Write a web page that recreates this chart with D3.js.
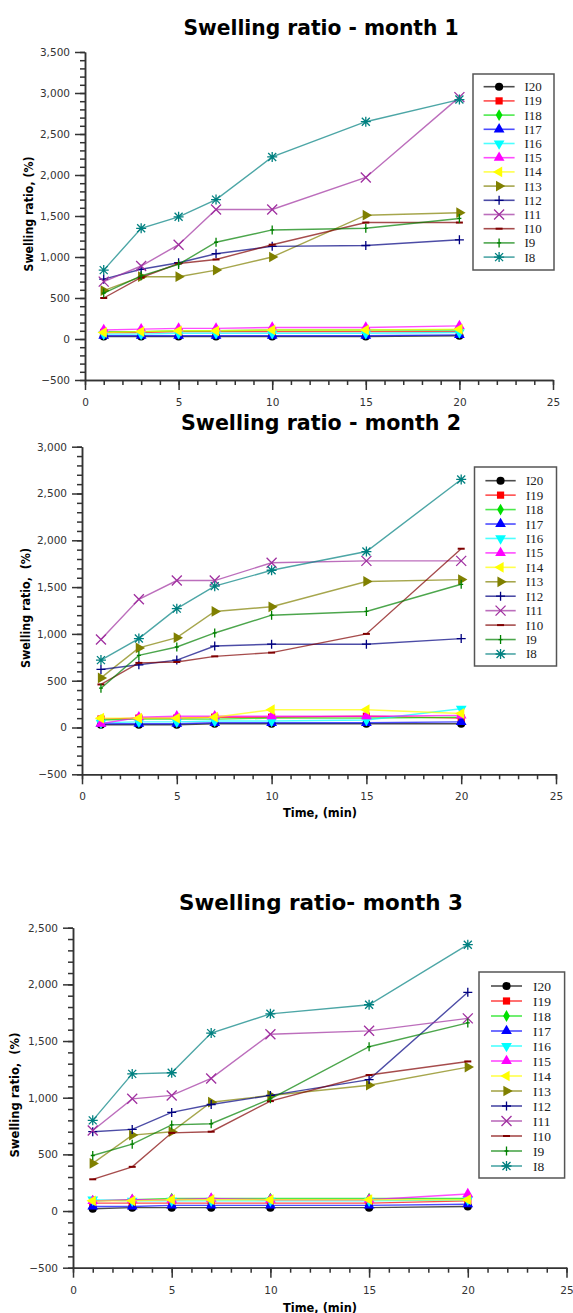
<!DOCTYPE html>
<html>
<head>
<meta charset="utf-8">
<script src="https://cdn.jsdelivr.net/npm/d3@7"></script>
<style>
  body { margin: 0; background: #fff; }
  svg text { font-family: "DejaVu Sans", sans-serif; }
  svg text.legend-label { font-family: "Liberation Serif", "Times New Roman", serif; }
</style>
</head>
<body>
<svg id="chart" width="573" height="1313"></svg>
<script>
// ---- data ----
const times = [1, 3, 5, 7, 10, 15, 20];
const seriesNames = ["I20", "I19", "I18", "I17", "I16", "I15", "I14", "I13", "I12", "I11", "I10", "I9", "I8"];

// rows follow seriesNames order
const month1Values = [
  [30, 30, 30, 30, 30, 30, 40],          // I20
  [80, 80, 90, 90, 90, 90, 90],          // I19
  [90, 90, 100, 100, 110, 110, 110],     // I18
  [40, 40, 40, 40, 40, 40, 50],          // I17
  [60, 60, 70, 70, 70, 70, 80],          // I16
  [110, 120, 130, 130, 140, 140, 160],   // I15
  [80, 90, 100, 100, 110, 110, 120],     // I14
  [590, 760, 760, 840, 1000, 1510, 1540],   // I13
  [730, 850, 930, 1040, 1130, 1140, 1210],  // I12
  [700, 890, 1150, 1580, 1580, 1970, 2950], // I11
  [500, 750, 920, 970, 1150, 1420, 1420],   // I10
  [560, 770, 910, 1180, 1330, 1350, 1470],  // I9
  [840, 1350, 1490, 1700, 2220, 2650, 2920] // I8
];
const month2Values = [
  [30, 30, 30, 40, 40, 40, 40],
  [90, 100, 100, 110, 110, 120, 100],
  [80, 90, 90, 90, 100, 100, 110],
  [40, 40, 40, 50, 50, 50, 60],
  [50, 60, 60, 70, 70, 80, 200],
  [40, 110, 120, 120, 120, 120, 130],
  [100, 100, 100, 110, 190, 190, 150],
  [530, 850, 960, 1240, 1290, 1560, 1580],
  [620, 670, 720, 870, 890, 890, 950],
  [940, 1370, 1570, 1570, 1760, 1780, 1780],
  [460, 690, 700, 760, 800, 1000, 1910],
  [420, 770, 860, 1010, 1200, 1240, 1530],
  [720, 950, 1270, 1510, 1680, 1880, 2650]
];
const month3Values = [
  [20, 30, 30, 30, 30, 30, 40],
  [70, 70, 70, 70, 70, 70, 90],
  [90, 100, 110, 110, 110, 110, 110],
  [40, 40, 50, 50, 50, 50, 60],
  [100, 90, 90, 90, 90, 90, 100],
  [90, 100, 100, 110, 100, 100, 150],
  [90, 90, 100, 100, 100, 100, 100],
  [420, 670, 700, 960, 1020, 1110, 1270],
  [700, 720, 870, 940, 1020, 1160, 1930],
  [710, 990, 1020, 1170, 1560, 1590, 1700],
  [280, 390, 690, 700, 970, 1200, 1320],
  [490, 590, 760, 770, 990, 1450, 1660],
  [800, 1210, 1220, 1570, 1740, 1820, 2350]
];

const chartTitles = ["Swelling ratio - month 1", "Swelling ratio - month 2", "Swelling ratio- month 3"];
const yLabels = ["Swelling ratio, (%)", "Swelling ratio,  (%)", "Swelling ratio,  (%)"];
const xLabels = [null, "Time, (min)", "Time, (min)"];
const yDomains = [[-500, 3500], [-500, 3000], [-500, 2500]];
const xTicks = [0, 5, 10, 15, 20, 25];

// ---- styles ----
const colors = ["#000000", "#ff0000", "#00e000", "#0000ff", "#00ffff", "#ff00ff", "#ffff00",
                "#808000", "#000080", "#a030a0", "#800000", "#008000", "#008080"];
const markers = ["circle", "square", "diamond", "triUp", "triDown", "triUp", "triLeft",
                 "triRight", "plus", "cross", "dash", "vbar", "star"];

// panel geometry
const panels = [
  {left: 85, right: 553, top: 52, bottom: 380, titleY: 35, titleW: 275,
   ylabX: 29, ylabY: 214, ylabW: 115, xlabY: null,
   legend: {x: 473, y: 74, w: 81, h: 196, row0: 86.7, step: 14.2, lx0: 483.6, lx1: 514.6, tx: 524.5, fs: 13}},
  {left: 82, right: 556, top: 446.7, bottom: 774.3, titleY: 430, titleW: 280,
   ylabX: 26, ylabY: 608, ylabW: 120, xlabY: 817,
   legend: {x: 474.5, y: 467, w: 82, h: 199, row0: 480.7, step: 14.44, lx0: 485.4, lx1: 515.7, tx: 526, fs: 13}},
  {left: 73, right: 566.5, top: 927.7, bottom: 1267.7, titleY: 910, titleW: 284,
   ylabX: 14.6, ylabY: 1095, ylabW: 125, xlabY: 1311.5,
   legend: {x: 479, y: 972, w: 85.6, h: 206, row0: 986, step: 15, lx0: 491, lx1: 522, tx: 533, fs: 13.5}}
];

const svg = d3.select("#chart");

function drawMarker(g, kind, color) {
  const filled = {circle: d3.symbolCircle, square: d3.symbolSquare, diamond: d3.symbolDiamond,
                  triUp: d3.symbolTriangle, triDown: d3.symbolTriangle,
                  triLeft: d3.symbolTriangle, triRight: d3.symbolTriangle};
  const rot = {triDown: 180, triLeft: -90, triRight: 90};
  if (filled[kind]) {
    const size = kind === "circle" ? 52 : kind === "square" ? 52 : kind === "diamond" ? 40 : 50;
    g.append("path")
      .attr("d", d3.symbol(filled[kind], size)())
      .attr("transform", rot[kind] ? `rotate(${rot[kind]})` : null)
      .attr("fill", color);
  } else {
    const shapes = {
      plus: "M-4.5,0H4.5M0,-4.5V4.5",
      cross: "M-5,-5L5,5M-5,5L5,-5",
      dash: "M-3.5,0H3.5",
      vbar: "M0,-4.5V4.5M-2,0H2",
      star: "M-5,0H5M0,-5V5M-4,-4L4,4M-4,4L4,-4"
    };
    g.append("path")
      .attr("d", shapes[kind])
      .attr("fill", "none")
      .attr("stroke", color)
      .attr("stroke-width", kind === "dash" ? 2 : 1.3);
  }
}

function drawPanel(p, values, i) {
  const x = d3.scaleLinear().domain([0, 25]).range([p.left, p.right]);
  const y = d3.scaleLinear().domain(yDomains[i]).range([p.bottom, p.top]);
  const g = svg.append("g");

  // title
  g.append("text")
    .attr("x", 321).attr("y", p.titleY)
    .attr("text-anchor", "middle")
    .attr("font-size", 21).attr("font-weight", "bold")
    .attr("textLength", p.titleW).attr("lengthAdjust", "spacingAndGlyphs")
    .text(chartTitles[i]);

  // axes: major + minor ticks
  const yMajor = d3.range(yDomains[i][0], yDomains[i][1] + 1, 500);
  const yMinor = d3.range(yDomains[i][0], yDomains[i][1] + 1, 100);
  const xMinor = d3.range(0, 26, 1);

  const yMin = g.append("g").attr("transform", `translate(${p.left},0)`)
    .call(d3.axisLeft(y).tickValues(yMinor).tickSize(5).tickSizeOuter(0).tickFormat(""));
  const yAx = g.append("g").attr("transform", `translate(${p.left},0)`)
    .call(d3.axisLeft(y).tickValues(yMajor).tickSize(10).tickSizeOuter(0).tickPadding(5)
      .tickFormat(d3.format(",")));

  const xMin = g.append("g").attr("transform", `translate(0,${p.bottom})`)
    .call(d3.axisBottom(x).tickValues(xMinor).tickSize(5).tickSizeOuter(0).tickFormat(""));
  const xAx = g.append("g").attr("transform", `translate(0,${p.bottom})`)
    .call(d3.axisBottom(x).tickValues(xTicks).tickSize(10).tickSizeOuter(0).tickPadding(8.5));

  [yMin, yAx, xMin, xAx].forEach(a => {
    a.selectAll("path, line").attr("stroke", "#333").attr("stroke-width", 1.5);
    a.selectAll("text").attr("font-size", 10.5).attr("fill", "#333")
      .attr("font-family", "'DejaVu Sans', sans-serif");
  });

  // axis titles
  g.append("text")
    .attr("transform", `translate(${p.ylabX},${p.ylabY}) rotate(-90)`)
    .attr("text-anchor", "middle").attr("dominant-baseline", "central")
    .attr("font-size", 11.5).attr("font-weight", "bold")
    .attr("textLength", p.ylabW).attr("lengthAdjust", "spacingAndGlyphs")
    .style("white-space", "pre")
    .text(yLabels[i]);
  if (xLabels[i]) {
    g.append("text")
      .attr("x", 320).attr("y", p.xlabY)
      .attr("text-anchor", "middle")
      .attr("font-size", 11.5).attr("font-weight", "bold")
      .attr("textLength", 74).attr("lengthAdjust", "spacingAndGlyphs")
      .text(xLabels[i]);
  }

  // series, drawn in legend order so I8 ends on top
  const line = d3.line().x((d, j) => x(times[j])).y(d => y(d));
  seriesNames.forEach((name, k) => {
    const s = g.append("g");
    s.append("path")
      .datum(values[k])
      .attr("d", line)
      .attr("fill", "none")
      .attr("stroke", colors[k])
      .attr("stroke-opacity", 0.7)
      .attr("stroke-width", 1.4);
    values[k].forEach((v, j) => {
      drawMarker(s.append("g").attr("transform", `translate(${x(times[j])},${y(v)})`), markers[k], colors[k]);
    });
  });

  // legend
  const L = p.legend;
  const lg = g.append("g");
  lg.append("rect")
    .attr("x", L.x).attr("y", L.y).attr("width", L.w).attr("height", L.h)
    .attr("fill", "#fff").attr("stroke", "#555").attr("stroke-width", 1.5);
  seriesNames.forEach((name, k) => {
    const ry = L.row0 + k * L.step;
    lg.append("line")
      .attr("x1", L.lx0).attr("x2", L.lx1).attr("y1", ry).attr("y2", ry)
      .attr("stroke", colors[k]).attr("stroke-opacity", 0.7).attr("stroke-width", 1.6);
    drawMarker(lg.append("g").attr("transform", `translate(${(L.lx0 + L.lx1) / 2},${ry})`), markers[k], colors[k]);
    lg.append("text")
      .attr("class", "legend-label")
      .attr("x", L.tx).attr("y", ry)
      .attr("dominant-baseline", "central")
      .attr("font-size", L.fs).attr("fill", "#222")
      .text(name);
  });
}

[month1Values, month2Values, month3Values].forEach((vals, i) => drawPanel(panels[i], vals, i));
</script>
</body>
</html>
